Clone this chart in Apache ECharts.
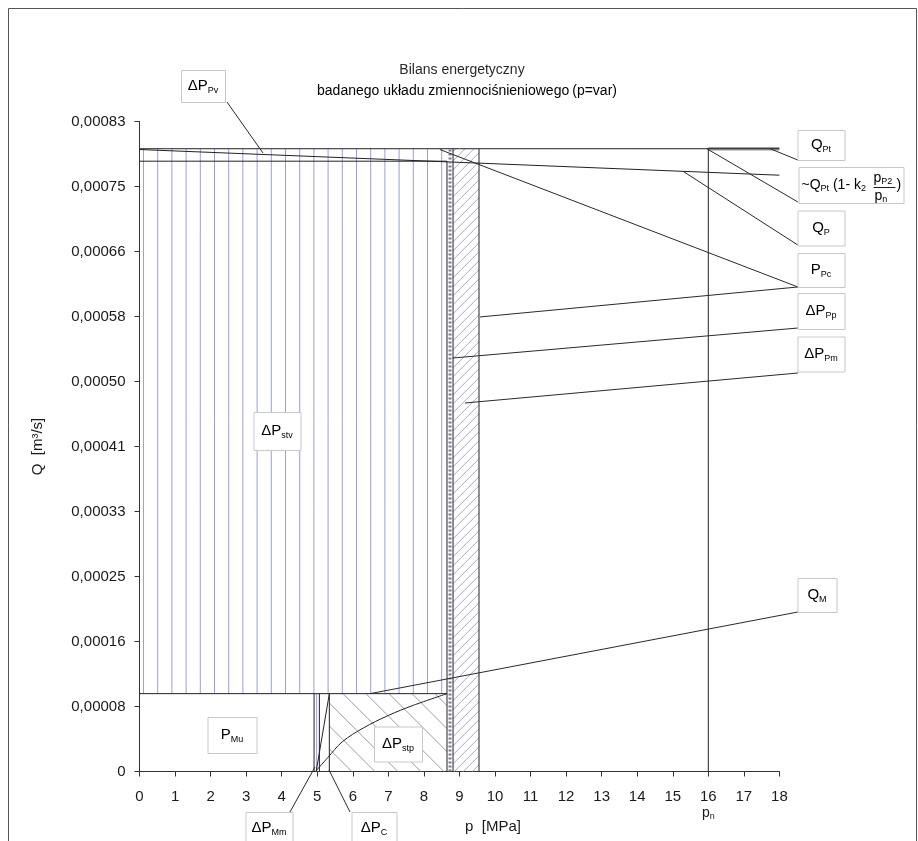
<!DOCTYPE html>
<html>
<head>
<meta charset="utf-8">
<script src="https://cdn.jsdelivr.net/npm/echarts@6/dist/echarts.min.js"></script>
<style>
  html, body { margin: 0; padding: 0; background: #fff; }
  #chart { width: 918px; height: 841px; }
</style>
</head>
<body>
<div id="chart"></div>
<script>
// ---- axis ticks ----
const qTickLabels = ['0', '0,00008', '0,00016', '0,00025', '0,00033', '0,00041',
                     '0,00050', '0,00058', '0,00066', '0,00075', '0,00083'];
const qStep = 0.0000835;          // flow tick step [m3/s]
const pMax = 18;                  // pressure axis end [MPa]

// ---- characteristic flow levels [m3/s] ----
const qPt = 0.0008;               // theoretical pump delivery Q_Pt
const qStvTop = 0.000784;         // upper edge of the ΔP_stv field
const qMu = 0.0001;               // motor flow level (P_Mu / ΔP_stp)

// ---- pressure boundaries [MPa] ----
const pMuEnd = 4.91;
const pMmEnd = 5.06;
const pCEnd = 5.34;
const pStvEnd = 8.65;
const pPpEnd = 8.82;
const pPmEnd = 9.55;
const pN = 16;

// ---- pump delivery Q_P(p) ----
const qPCurveP = [0, 18];
const qPCurveQ = [0.000799, 0.000766];

// ---- motor flow rise across ΔP_stp ----
const qMCurveP = [4.95, 5.3, 5.7, 6.3, 7.0, 7.7, 8.65];
const qMCurveQ = [0, 0.000018, 0.000038, 0.000056, 0.000072, 0.000085, 0.0001];

const zip = (ps, qs) => ps.map((p, i) => [p, qs[i]]);

// ---- field boundaries ----
const outlines = [
  { pts: [[16, qPt], [18, qPt]], color: '#a0a0a0', width: 3.5 },
  { pts: [[0, qPt], [18, qPt]] },
  { pts: [[0, qStvTop], [pStvEnd, qStvTop]] },
  { pts: zip(qPCurveP, qPCurveQ) },
  { pts: [[0, qMu], [pStvEnd, qMu]] },
  { pts: [[pStvEnd, 0], [pStvEnd, qStvTop]] },
  { pts: [[(pStvEnd + pPpEnd) / 2, 0], [(pStvEnd + pPpEnd) / 2, qPt]], color: '#7a7a9a', width: 3, dash: [2, 2] },
  { pts: [[pPpEnd, 0], [pPpEnd, qPt]] },
  { pts: [[pPmEnd, 0], [pPmEnd, qPt]] },
  { pts: [[pMuEnd, 0], [pMuEnd, qMu]] },
  { pts: [[pMmEnd, 0], [pMmEnd, qMu]] },
  { pts: [[pCEnd, 0], [pCEnd, qMu]] },
  { pts: [[pN, 0], [pN, qPt]] },
  { pts: zip(qMCurveP, qMCurveQ), smooth: 0.35 },
  { pts: [[4.97, 0], [pCEnd, qMu]] }
];

// ---- hatched fields ----
const hatchFields = [
  { p0: 0, p1: pStvEnd, q0: qMu, q1: qPt, kind: 'vertical', gap: 14.2, offset: 4, color: '#9d9de2' },
  { p0: pMuEnd, p1: pMmEnd, q0: 0, q1: qMu, kind: 'vertical', gap: 2.6, offset: 2.6, color: '#9d9de2' },
  { p0: pCEnd, p1: pStvEnd, q0: 0, q1: qMu, kind: 'back', gap: 23, offset: 12, color: '#9c9cb0' },
  { p0: pPpEnd, p1: pPmEnd, q0: 0, q1: qPt, kind: 'fwd', gap: 9, offset: 3, color: '#a8a8cc' }
];

// ---- annotation leaders (data units) ----
const leaderLines = [
  [[2.461, 0.00086], [3.474, 0.0007945]],
  [[17.74, qPt], [18.52, 0.0007855]],
  [[15.96, qPt], [18.52, 0.0007316]],
  [[15.29, 0.000771], [18.52, 0.0006763]],
  [[8.45, 0.000799], [18.52, 0.0006224], [9.578, 0.0005839]],
  [[8.819, 0.0005312], [18.52, 0.0005697]],
  [[9.156, 0.0004734], [18.52, 0.0005119]],
  [[6.484, qMu], [18.52, 0.0002049]],
  [[4.233, -0.000052], [4.937, 0.0000058]],
  [[5.921, -0.000052], [5.33, 0.000002]]
];

// ---- annotation boxes: centre in data units, size in px ----
const labelBoxes = [
  { at: [19.18, 0.000805], w: 47, h: 30, text: '{m|Q}{s|Pt}' },
  { at: [20.0, 0.0007534], w: 105, h: 36, fraction: true },
  { at: [19.18, 0.0006988], w: 47, h: 35, text: '{m|Q}{s|P}' },
  { at: [19.18, 0.0006442], w: 47, h: 34, text: '{m|P}{s|Pc}' },
  { at: [19.18, 0.0005916], w: 47, h: 36, text: '{m|ΔP}{s|Pp}' },
  { at: [19.18, 0.0005357], w: 47, h: 35, text: '{m|ΔP}{s|Pm}' },
  { at: [19.07, 0.0002267], w: 39, h: 34, text: '{m|Q}{s|M}' },
  { at: [1.786, 0.0008806], w: 44, h: 32, text: '{m|ΔP}{s|Pv}' },
  { at: [3.854, 0.0004374], w: 47, h: 38, text: '{m|ΔP}{s|stv}' },
  { at: [2.616, 0.0000469], w: 49, h: 36, text: '{m|P}{s|Mu}' },
  { at: [7.27, 0.0000347], w: 48, h: 35, text: '{m|ΔP}{s|stp}' },
  { at: [3.629, -0.0000725], w: 47, h: 32, text: '{m|ΔP}{s|Mm}' },
  { at: [6.61, -0.0000725], w: 45, h: 32, text: '{m|ΔP}{s|C}' }
];

const FONT = '"Liberation Sans", Arial, Helvetica, sans-serif';
const INK = '#1e1e1e';
const boxRich = {
  m: { fontSize: 15, lineHeight: 18, fontFamily: FONT, color: INK },
  s: { fontSize: 9, lineHeight: 10, fontFamily: FONT, color: INK, verticalAlign: 'bottom' }
};
const smallRich = {
  m: { fontSize: 14, lineHeight: 16, fontFamily: FONT, color: INK },
  s: { fontSize: 9, lineHeight: 9, fontFamily: FONT, color: INK, verticalAlign: 'bottom' }
};

function seg(x1, y1, x2, y2, color) {
  return { type: 'line', shape: { x1, y1, x2, y2 }, style: { stroke: color, lineWidth: 1 }, silent: true };
}

function renderHatch(params, api) {
  const r = hatchFields[params.dataIndex];
  const a = api.coord([r.p0, r.q1]);
  const b = api.coord([r.p1, r.q0]);
  const x0 = a[0], y0 = a[1], x1 = b[0], y1 = b[1];
  const children = [];
  if (r.kind === 'vertical') {
    for (let x = x0 + r.offset; x < x1 - 0.8; x += r.gap) children.push(seg(x, y0, x, y1, r.color));
  } else if (r.kind === 'back') {
    for (let c = y0 - x1 + r.offset; c < y1 - x0; c += r.gap) {
      const xs = Math.max(x0, y0 - c), xe = Math.min(x1, y1 - c);
      if (xe > xs) children.push(seg(xs, xs + c, xe, xe + c, r.color));
    }
  } else {
    for (let c = y0 + x0 + r.offset; c < y1 + x1; c += r.gap) {
      const xs = Math.max(x0, c - y1), xe = Math.min(x1, c - y0);
      if (xe > xs) children.push(seg(xs, c - xs, xe, c - xe, r.color));
    }
  }
  return { type: 'group', children };
}

function renderOutline(params, api) {
  const o = outlines[params.dataIndex];
  return {
    type: 'polyline',
    shape: { points: o.pts.map(p => api.coord(p)), smooth: o.smooth || 0 },
    style: { stroke: o.color || '#222', lineWidth: o.width || 1, fill: null, lineDash: o.dash || null },
    silent: true
  };
}

function renderLeader(params, api) {
  return {
    type: 'polyline',
    shape: { points: leaderLines[params.dataIndex].map(p => api.coord(p)) },
    style: { stroke: '#2a2a2a', lineWidth: 1, fill: null },
    silent: true
  };
}

function renderBox(params, api) {
  const b = labelBoxes[params.dataIndex];
  const c = api.coord(b.at);
  const cx = Math.round(c[0]), cy = Math.round(c[1]);
  const children = [{
    type: 'rect',
    shape: { x: cx - b.w / 2 + 0.5, y: cy - b.h / 2 + 0.5, width: b.w, height: b.h },
    style: { fill: '#ffffff', stroke: '#c8c8c8', lineWidth: 1 }
  }];
  if (b.fraction) {
    const left = cx - b.w / 2;
    children.push(
      { type: 'text', style: { x: left + 3, y: cy, text: '{m|~Q}{s|Pt}{m| (1- k}{s|2}', rich: smallRich, align: 'left', verticalAlign: 'middle' } },
      { type: 'text', style: { x: left + 75, y: cy + 1, text: '{m|p}{s|P2}', rich: smallRich, align: 'left', verticalAlign: 'bottom' } },
      { type: 'line', shape: { x1: left + 75, y1: cy + 2.5, x2: left + 97, y2: cy + 2.5 }, style: { stroke: INK, lineWidth: 1 } },
      { type: 'text', style: { x: left + 76, y: cy + 3, text: '{m|p}{s|n}', rich: smallRich, align: 'left', verticalAlign: 'top' } },
      { type: 'text', style: { x: left + 98, y: cy, text: '{m|)}', rich: smallRich, align: 'left', verticalAlign: 'middle' } }
    );
  } else {
    children.push({ type: 'text', style: { x: cx, y: cy, text: b.text, rich: boxRich, align: 'center', verticalAlign: 'middle' } });
  }
  return { type: 'group', children };
}

const chart = echarts.init(document.getElementById('chart'), null, { renderer: 'canvas' });

chart.setOption({
  animation: false,
  backgroundColor: '#ffffff',
  textStyle: { fontFamily: FONT },
  grid: { left: 139.5, top: 121.5, width: 639.9, height: 650, containLabel: false, outerBoundsMode: 'none' },
  xAxis: {
    type: 'value', min: 0, max: pMax, interval: 1,
    axisLine: { show: true, onZero: false, lineStyle: { color: '#333', width: 1 } },
    axisTick: { show: true, length: 5, lineStyle: { color: '#333' } },
    splitLine: { show: false },
    axisLabel: {
      margin: 16, color: '#1a1a1a', fontSize: 15, fontFamily: FONT,
      formatter: v => v === pN ? '{t|16}\n{p|p}{n|n}' : '{t|' + v + '}',
      rich: {
        t: { fontSize: 15, lineHeight: 18, fontFamily: FONT, color: '#1a1a1a' },
        p: { fontSize: 14, lineHeight: 16, fontFamily: FONT, color: '#1a1a1a' },
        n: { fontSize: 9, lineHeight: 9, fontFamily: FONT, color: '#1a1a1a', verticalAlign: 'bottom' }
      }
    }
  },
  yAxis: {
    type: 'value', min: 0, max: qStep * 10, interval: qStep,
    name: 'Q  [m³/s]', nameLocation: 'middle', nameGap: 94, nameRotate: 90,
    nameTextStyle: { fontSize: 15, color: '#1a1a1a', fontFamily: FONT },
    axisLine: { show: true, lineStyle: { color: '#333', width: 1 } },
    axisTick: { show: true, length: 5, lineStyle: { color: '#333' } },
    splitLine: { show: false },
    axisLabel: {
      margin: 14, color: '#1a1a1a', fontSize: 15, fontFamily: FONT,
      formatter: v => qTickLabels[Math.round(v / qStep)] || ''
    }
  },
  graphic: [
    { type: 'rect', silent: true, shape: { x: 8.5, y: 8.5, width: 908, height: 860 }, style: { fill: 'none', stroke: '#555', lineWidth: 1 } },
    { type: 'text', silent: true, x: 462, y: 70, style: { text: 'Bilans energetyczny', align: 'center', verticalAlign: 'middle', font: '14px ' + FONT, fill: '#2a2a2a' } },
    { type: 'text', silent: true, x: 467, y: 91, style: {
        text: '{a|badanego układu zmiennociśnieniowego}{b|(p=var)}', align: 'center', verticalAlign: 'middle',
        rich: { a: { fontSize: 14, fontFamily: FONT, color: '#2a2a2a' }, b: { fontSize: 14, fontFamily: FONT, color: '#5656d0', padding: [0, 0, 0, 3] } }
    } },
    { type: 'text', silent: true, x: 493, y: 827, style: { text: 'p  [MPa]', align: 'center', verticalAlign: 'middle', font: '15px ' + FONT, fill: '#1a1a1a' } }
  ],
  series: [
    { type: 'custom', name: 'hatching', z: 1, silent: true, renderItem: renderHatch, data: hatchFields.map(r => [r.p0, r.q0]) },
    { type: 'custom', name: 'boundaries', z: 2, silent: true, renderItem: renderOutline, data: outlines.map(o => o.pts[0]) },
    { type: 'custom', name: 'leaders', z: 3, silent: true, clip: false, renderItem: renderLeader, data: leaderLines.map(l => l[0]) },
    { type: 'custom', name: 'labels', z: 4, silent: true, clip: false, renderItem: renderBox, data: labelBoxes.map(b => b.at) }
  ]
});
</script>
</body>
</html>
